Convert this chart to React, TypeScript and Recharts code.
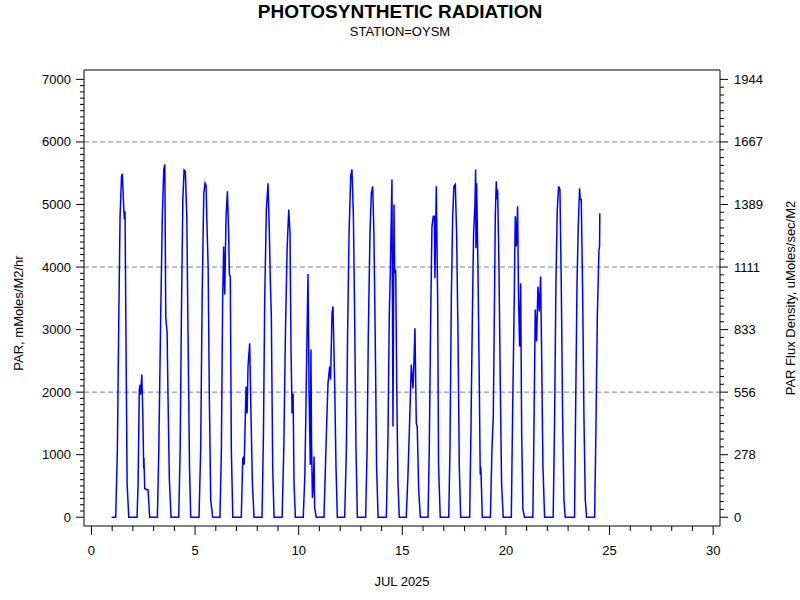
import React from 'react';
import { LineChart, Line, XAxis, YAxis, ReferenceLine } from 'recharts';

// [day of July 2025 (fractional), PAR mMoles/M2/hr]
const parWeek1: [number, number][] = [
  [0.97, 0], [1.17, 0], [1.25, 1080], [1.32, 3210], [1.38, 4810], [1.45, 5450], [1.49, 5490], [1.56, 4920], [1.59, 4760], [1.62, 4890], [1.67, 2680], [1.72, 540], [1.8, 0],
  [2.2, 0], [2.25, 540], [2.31, 2040], [2.35, 2120], [2.37, 1960], [2.43, 2280], [2.48, 1610], [2.52, 780], [2.53, 950], [2.57, 460], [2.67, 440], [2.73, 440], [2.81, 0],
  [3.18, 0], [3.25, 1080], [3.34, 3210], [3.42, 4810], [3.49, 5560], [3.54, 5640], [3.585, 3200], [3.65, 2950], [3.7, 1800], [3.76, 600], [3.84, 0],
  [4.21, 0], [4.28, 1080], [4.34, 3210], [4.41, 5080], [4.47, 5550], [4.53, 5530], [4.6, 4810], [4.66, 2940], [4.73, 810], [4.79, 0],
  [5.19, 0], [5.27, 1080], [5.34, 3480], [5.42, 5180], [5.48, 5340], [5.53, 5300], [5.58, 4600], [5.63, 4010], [5.69, 1880], [5.755, 280], [5.85, 0],
  [6.2, 0], [6.27, 1080], [6.33, 3480], [6.38, 4330], [6.43, 3560], [6.495, 4810], [6.56, 5210], [6.62, 4540], [6.655, 3880], [6.7, 3850], [6.75, 1080], [6.82, 0],
  [7.23, 0], [7.3, 940], [7.36, 970], [7.37, 840], [7.46, 2090], [7.51, 1660], [7.555, 2410], [7.635, 2780], [7.7, 1610], [7.765, 540], [7.845, 0],
];

const parWeek2: [number, number][] = [
  [8.23, 0], [8.3, 1340], [8.36, 3480], [8.44, 4920], [8.52, 5340], [8.585, 4540], [8.63, 3800], [8.68, 3210], [8.745, 810], [8.81, 0],
  [9.2, 0], [9.28, 1080], [9.36, 2940], [9.44, 4280], [9.52, 4920], [9.58, 4540], [9.63, 2680], [9.68, 1660], [9.73, 1980], [9.775, 540], [9.84, 0],
  [10.22, 0], [10.3, 700], [10.36, 2000], [10.42, 3300], [10.45, 3890], [10.5, 2000], [10.56, 840], [10.59, 2680], [10.62, 1200], [10.66, 310], [10.7, 500], [10.74, 970], [10.77, 150], [10.85, 0],
  [11.22, 0], [11.29, 810], [11.35, 1500], [11.415, 2140], [11.495, 2410], [11.54, 2200], [11.607, 3260], [11.655, 3370], [11.7, 2680], [11.735, 2140], [11.8, 810], [11.865, 0],
  [12.22, 0], [12.3, 1080], [12.36, 2940], [12.43, 4540], [12.51, 5450], [12.57, 5560], [12.64, 4810], [12.7, 3210], [12.765, 1080], [12.83, 0],
  [13.23, 0], [13.3, 1080], [13.36, 2940], [13.44, 4540], [13.505, 5180], [13.57, 5290], [13.63, 4540], [13.7, 2680], [13.76, 810], [13.83, 0],
  [14.23, 0], [14.31, 1340], [14.37, 3210], [14.42, 3900], [14.5, 5400], [14.55, 1450], [14.6, 5000], [14.63, 3900], [14.68, 3960], [14.73, 2140], [14.79, 540], [14.855, 0],
];

const parWeek3: [number, number][] = [
  [15.19, 0], [15.27, 650], [15.35, 1500], [15.435, 2440], [15.515, 2060], [15.56, 2460], [15.61, 3020], [15.675, 1500], [15.72, 1450], [15.79, 440], [15.87, 0],
  [16.24, 0], [16.3, 1080], [16.37, 3210], [16.43, 4650], [16.495, 4810], [16.545, 4810], [16.575, 3820], [16.64, 5290], [16.705, 3480], [16.75, 810], [16.83, 0],
  [17.24, 0], [17.3, 1080], [17.365, 3480], [17.43, 4810], [17.49, 5290], [17.557, 5320], [17.62, 4540], [17.686, 2940], [17.75, 810], [17.815, 0],
  [18.25, 0], [18.31, 1340], [18.38, 3210], [18.44, 4540], [18.506, 5000], [18.538, 5560], [18.554, 4300], [18.586, 5340], [18.65, 4010], [18.715, 2140], [18.76, 680], [18.78, 810], [18.8, 700], [18.86, 0],
  [19.25, 0], [19.325, 1080], [19.39, 1610], [19.44, 3210], [19.487, 4810], [19.535, 5370], [19.567, 5080], [19.6, 5240], [19.664, 4010], [19.728, 2140], [19.79, 540], [19.87, 0],
  [20.26, 0], [20.32, 1610], [20.39, 3210], [20.45, 4810], [20.5, 4330], [20.564, 4970], [20.61, 3480], [20.66, 2730], [20.71, 3740], [20.76, 1340], [20.82, 120], [20.9, 0],
  [21.3, 0], [21.35, 1340], [21.416, 3320], [21.48, 2810], [21.545, 3690], [21.61, 3290], [21.674, 3850], [21.72, 2680], [21.786, 810], [21.866, 0],
];

const parWeek4: [number, number][] = [
  [22.28, 0], [22.35, 1610], [22.413, 3740], [22.478, 4920], [22.54, 5290], [22.606, 5240], [22.67, 3740], [22.735, 1610], [22.8, 280], [22.86, 0],
  [23.31, 0], [23.36, 1610], [23.43, 3740], [23.49, 4650], [23.555, 5260], [23.587, 5080], [23.635, 5080], [23.7, 3640], [23.764, 1610], [23.83, 280], [23.89, 0],
  [24.28, 0], [24.34, 1340], [24.41, 3210], [24.49, 4280], [24.52, 4330], [24.53, 4860],
];

const dayTicks = [0, 5, 10, 15, 20, 25, 30];
const leftTickValues = [0, 1000, 2000, 3000, 4000, 5000, 6000, 7000];
const rightTickLabels = ['0', '278', '556', '833', '1111', '1389', '1667', '1944'];
const gridValues = [2000, 4000, 6000];

const TITLE = 'PHOTOSYNTHETIC RADIATION';
const SUBTITLE = 'STATION=OYSM';
const X_LABEL = 'JUL 2025';
const Y_LEFT_LABEL = 'PAR, mMoles/M2/hr';
const Y_RIGHT_LABEL = 'PAR Flux Density, uMoles/sec/M2';

const data = [...parWeek1, ...parWeek2, ...parWeek3, ...parWeek4].map(([t, v]) => ({ t, v }));

const FONT = '"Liberation Sans", Arial, Helvetica, sans-serif';
const X_DOMAIN: [number, number] = [-0.36, 30.33];
const Y_DOMAIN: [number, number] = [-140, 7150];

const xAllTicks: number[] = [];
for (let i = dayTicks[0]; i <= dayTicks[dayTicks.length - 1]; i++) xAllTicks.push(i);
const leftAllTicks: number[] = [];
for (let v = 0; v <= 7000; v += 100) leftAllTicks.push(v);
const rightAllTicks: number[] = [];
for (let v = 0; v <= 7000; v += 125) rightAllTicks.push(v);

const XTick = (props: any) => {
  const { x, y, payload } = props;
  const v = payload.value as number;
  const major = dayTicks.includes(v);
  return (
    <g>
      <line x1={x} x2={x} y1={y} y2={y + (major ? 9 : 5)} stroke="#000" strokeWidth={1} />
      {major && (
        <text x={x} y={y + 24} textAnchor="middle" dominantBaseline="central" fontSize={13} fontFamily={FONT} fill="#000">
          {v}
        </text>
      )}
    </g>
  );
};

const LeftTick = (props: any) => {
  const { x, y, payload } = props;
  const v = payload.value as number;
  const idx = leftTickValues.indexOf(v);
  const major = idx >= 0;
  return (
    <g>
      <line x1={x} x2={x - (major ? 8 : 4)} y1={y} y2={y} stroke="#000" strokeWidth={1} />
      {major && (
        <text x={x - 13} y={y} textAnchor="end" dominantBaseline="central" fontSize={13} fontFamily={FONT} fill="#000">
          {v}
        </text>
      )}
    </g>
  );
};

const RightTick = (props: any) => {
  const { x, y, payload } = props;
  const v = payload.value as number;
  const idx = leftTickValues.indexOf(v);
  const major = idx >= 0;
  return (
    <g>
      <line x1={x} x2={x + (major ? 8 : 4)} y1={y} y2={y} stroke="#000" strokeWidth={1} />
      {major && (
        <text x={x + 14} y={y} textAnchor="start" dominantBaseline="central" fontSize={13} fontFamily={FONT} fill="#000">
          {rightTickLabels[idx]}
        </text>
      )}
    </g>
  );
};

export default function App() {
  return (
    <div style={{ position: 'absolute', left: 0, top: 0, width: 800, height: 600, background: '#fff' }}>
      <LineChart width={800} height={600} data={data} margin={{ top: 70, right: 0, bottom: 0, left: 0 }}>
        <XAxis
          xAxisId="bottom"
          dataKey="t"
          type="number"
          domain={X_DOMAIN}
          allowDataOverflow
          ticks={xAllTicks}
          interval={0}
          tick={<XTick />}
          tickLine={false}
          tickSize={0}
          tickMargin={0}
          height={74}
          axisLine={{ stroke: '#000' }}
        />
        <YAxis
          yAxisId="left"
          type="number"
          domain={Y_DOMAIN}
          allowDataOverflow
          ticks={leftAllTicks}
          interval={0}
          tick={<LeftTick />}
          tickLine={false}
          tickSize={0}
          tickMargin={0}
          width={84}
          axisLine={{ stroke: '#000' }}
        />
        <YAxis
          yAxisId="right"
          orientation="right"
          type="number"
          domain={Y_DOMAIN}
          allowDataOverflow
          ticks={rightAllTicks}
          interval={0}
          tick={<RightTick />}
          tickLine={false}
          tickSize={0}
          tickMargin={0}
          width={80}
          axisLine={{ stroke: '#000' }}
        />
        {gridValues.map((g) => (
          <ReferenceLine key={g} xAxisId="bottom" yAxisId="left" y={g} stroke="#808080" strokeDasharray="5 3" strokeWidth={1} />
        ))}
        <ReferenceLine xAxisId="bottom" yAxisId="left" y={Y_DOMAIN[1]} stroke="#000" strokeWidth={1} ifOverflow="extendDomain" />
        <Line
          xAxisId="bottom"
          yAxisId="left"
          type="linear"
          dataKey="v"
          stroke="#0000ff"
          strokeWidth={1.5}
          dot={false}
          activeDot={false}
          isAnimationActive={false}
        />
      </LineChart>
      <svg width={800} height={600} style={{ position: 'absolute', left: 0, top: 0, pointerEvents: 'none' }}>
        <text x={400} y={11} textAnchor="middle" dominantBaseline="central" fontSize={19} fontWeight="bold" fontFamily={FONT} fill="#000">
          {TITLE}
        </text>
        <text x={400} y={31} textAnchor="middle" dominantBaseline="central" fontSize={13} fontFamily={FONT} fill="#000">
          {SUBTITLE}
        </text>
        <text x={402} y={581} textAnchor="middle" dominantBaseline="central" fontSize={13} fontFamily={FONT} fill="#000">
          {X_LABEL}
        </text>
        <text x={18} y={313} transform="rotate(-90 18 313)" textAnchor="middle" dominantBaseline="central" fontSize={13} fontFamily={FONT} fill="#000">
          {Y_LEFT_LABEL}
        </text>
        <text x={790} y={298} transform="rotate(-90 790 298)" textAnchor="middle" dominantBaseline="central" fontSize={13} fontFamily={FONT} fill="#000">
          {Y_RIGHT_LABEL}
        </text>
      </svg>
    </div>
  );
}
